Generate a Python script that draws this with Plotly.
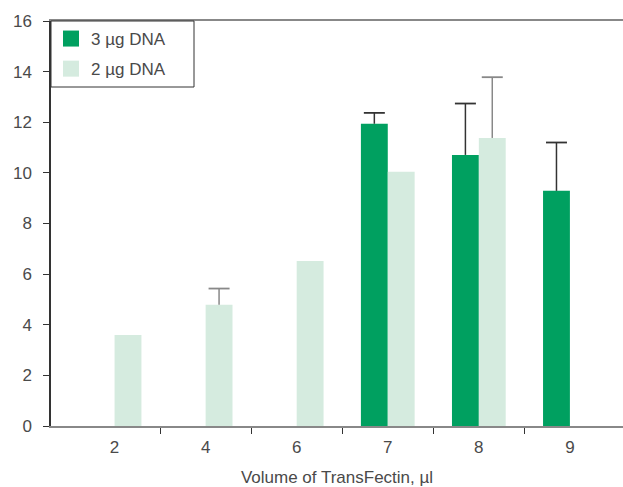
import plotly.graph_objects as go

categories = ["2", "4", "6", "7", "8", "9"]
dna3_values = [None, None, None, 11.94, 10.71, 9.29]
dna3_err = [None, None, None, 0.43, 2.03, 1.91]
dna2_values = [3.6, 4.79, 6.52, 10.04, 11.38, None]
dna2_err = [None, 0.64, None, None, 2.4, None]
y_ticks = [0, 2, 4, 6, 8, 10, 12, 14, 16]

DARK = "#00a060"
LIGHT = "#d5ebdf"
TXT = "#4a4a4a"
FONT = "Liberation Sans, Arial, sans-serif"
BARGAP = 0.41

xpos = list(range(len(categories)))
shift = (1 - BARGAP) / 4  # centre offset of each bar within a group of two


def tops(vals, errs):
    return [v + e if (v is not None and e is not None) else None for v, e in zip(vals, errs)]


fig = go.Figure()
series = [
    ("3 µg DNA", dna3_values, dna3_err, DARK, "#333333", -shift),
    ("2 µg DNA", dna2_values, dna2_err, LIGHT, "#888888", shift),
]
for name, vals, errs, col, ecol, off in series:
    fig.add_trace(go.Bar(
        x=xpos, y=vals, name=name, marker_color=col,
        marker_line_width=0, showlegend=False,
    ))
for name, vals, errs, col, ecol, off in series:
    # error whisker (from cap down to bar top) with a cap marker
    fig.add_trace(go.Scatter(
        x=[p + off for p in xpos], y=tops(vals, errs), mode="markers",
        showlegend=False, hoverinfo="skip",
        marker=dict(symbol="line-ew-open", size=15, color=ecol,
                    line=dict(color=ecol, width=1.8)),
        error_y=dict(type="data", symmetric=False,
                     array=[0 if e is not None else None for e in errs],
                     arrayminus=errs, color=ecol, thickness=1.5, width=0),
    ))
# legend entries
for grp, (name, col) in enumerate([("3 µg DNA", DARK), ("2 µg DNA", LIGHT)]):
    fig.add_trace(go.Scatter(x=[None], y=[None], mode="markers", name=name,
                             legendgroup=f"g{grp}",
                             marker=dict(symbol="square", size=16, color=col)))

# legend frame (wider than plotly's auto box)
fig.add_shape(type="rect", xref="paper", yref="paper",
              x0=0, x1=143 / 572, y0=1 - 66 / 405, y1=1,
              line=dict(color="#333333", width=1), fillcolor="white", layer="above")

fig.update_layout(
    width=623, height=487,
    margin=dict(l=51, r=0, t=21, b=61),
    paper_bgcolor="white", plot_bgcolor="white",
    barmode="group", bargap=BARGAP, bargroupgap=0,
    font=dict(family=FONT, size=17, color=TXT),
    legend=dict(x=0, y=1, xanchor="left", yanchor="top",
                bgcolor="rgba(0,0,0,0)", borderwidth=0,
                font=dict(size=17, color=TXT), tracegroupgap=5),
    xaxis=dict(
        range=[-0.698, 5.583], tickvals=xpos, ticktext=categories,
        ticks="", ticklen=0, showgrid=False, zeroline=False,
        showline=True, linecolor="#888888", linewidth=2, mirror=True,
        ticklabelstandoff=5,
        tickfont=dict(size=17, color=TXT),
        minor=dict(tickvals=[0.5, 1.5, 2.5, 3.5, 4.5], ticks="outside",
                   ticklen=6, tickcolor="#333333", tickwidth=1, showgrid=False),
        title=dict(text="Volume of TransFectin, µl", font=dict(size=17, color=TXT), standoff=17),
    ),
    yaxis=dict(
        range=[0, 16], tickvals=y_ticks, ticks="outside", ticklen=6,
        tickcolor="#333333", tickwidth=1, showgrid=False, zeroline=False,
        showline=True, linecolor="#333333", linewidth=1.5,
        ticklabelstandoff=8, tickfont=dict(size=17, color=TXT),
    ),
)

fig.write_html("out.html")
